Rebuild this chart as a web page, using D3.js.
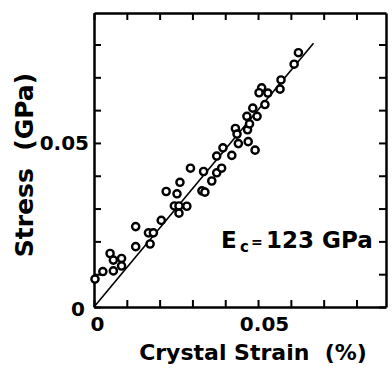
<!DOCTYPE html>
<html>
<head>
<meta charset="utf-8">
<script src="https://cdn.jsdelivr.net/npm/d3@7"></script>
<style>
  body { margin: 0; background: #fff; }
  svg { display: block; }
  text { font-family: "DejaVu Sans", sans-serif; font-weight: bold; fill: #000; white-space: pre; }
</style>
</head>
<body>
<div id="chart"></div>
<script>
// crystal strain (%) vs stress (GPa)
const strain = [0.0003, 0.0027, 0.0049, 0.0059, 0.0059, 0.0084, 0.0084, 0.0127, 0.0127, 0.0166,
                0.0181, 0.0171, 0.0205, 0.0220, 0.0253, 0.0262, 0.0245, 0.0259, 0.0283, 0.0259,
                0.0294, 0.0329, 0.0338, 0.0334, 0.0359, 0.0374, 0.0389, 0.0374, 0.0393, 0.0420,
                0.0431, 0.0436, 0.0440, 0.0470, 0.0491, 0.0468, 0.0474, 0.0466, 0.0497, 0.0484,
                0.0521, 0.0511, 0.0503, 0.0530, 0.0567, 0.0570, 0.0610, 0.0623];
const stress = [0.0085, 0.0108, 0.0163, 0.0143, 0.0110, 0.0148, 0.0125, 0.0245, 0.0184, 0.0226,
                0.0226, 0.0192, 0.0264, 0.0352, 0.0345, 0.0380, 0.0308, 0.0308, 0.0307, 0.0286,
                0.0423, 0.0354, 0.0350, 0.0413, 0.0384, 0.0409, 0.0423, 0.0460, 0.0485, 0.0462,
                0.0544, 0.0527, 0.0498, 0.0504, 0.0478, 0.0540, 0.0558, 0.0581, 0.0581, 0.0606,
                0.0617, 0.0668, 0.0653, 0.0652, 0.0664, 0.0692, 0.0740, 0.0775];

// fitted line E_c = 123 GPa
const fitStrain = [0, 0.0669];
const fitStress = [0, 0.0804];

const xTicks = [0, 0.01, 0.02, 0.03, 0.04, 0.05, 0.06, 0.07, 0.08];
const yTicks = [0, 0.01, 0.02, 0.03, 0.04, 0.05, 0.06, 0.07, 0.08];
const xTickLabels = {0: "0", 0.05: "0.05"};
const yTickLabels = {0: "0", 0.05: "0.05"};

const width = 392;
const height = 368;
const margin = {top: 13, right: 6, bottom: 61, left: 94};

const svg = d3.select("#chart")
              .append("svg")
              .attr("width", width)
              .attr("height", height);

const x = d3.scaleLinear().domain([0, 0.089]).range([margin.left, width - margin.right]);
const y = d3.scaleLinear().domain([0, 0.0896]).range([height - margin.bottom, margin.top]);

const fmtX = d => xTickLabels[d] || "";
const fmtY = d => yTickLabels[d] || "";

const bottom = svg.append("g")
    .attr("transform", `translate(0,${y(0)})`)
    .call(d3.axisBottom(x).tickValues(xTicks).tickSize(-7).tickSizeOuter(0).tickFormat(fmtX));
bottom.selectAll("text")
    .attr("y", 10).attr("dx", 6).attr("dy", "0.71em")
    .style("font-size", "20px");
bottom.selectAll(".tick")
    .filter(d => d === 0)
    .select("text")
    .attr("dx", 3);

svg.append("g")
    .attr("transform", `translate(0,${y(0.0896)})`)
    .call(d3.axisTop(x).tickValues(xTicks).tickSize(-7).tickSizeOuter(0).tickFormat(""));

const left = svg.append("g")
    .attr("transform", `translate(${x(0)},0)`)
    .call(d3.axisLeft(y).tickValues(yTicks).tickSize(-7).tickSizeOuter(0).tickFormat(fmtY));
left.selectAll("text")
    .attr("x", -5)
    .style("font-size", "20px");
left.selectAll(".tick")
    .filter(d => d === 0)
    .select("text")
    .attr("x", -9)
    .attr("dy", "0.42em");

svg.append("g")
    .attr("transform", `translate(${x(0.089)},0)`)
    .call(d3.axisRight(y).tickValues(yTicks).tickSize(-7).tickSizeOuter(0).tickFormat(""));

svg.selectAll(".domain").attr("stroke", "#000").attr("stroke-width", 2.5);
svg.selectAll(".tick line").attr("stroke", "#000").attr("stroke-width", 2);

// fit line
svg.append("line")
    .attr("x1", x(fitStrain[0])).attr("y1", y(fitStress[0]))
    .attr("x2", x(fitStrain[1])).attr("y2", y(fitStress[1]))
    .attr("stroke", "#000")
    .attr("stroke-width", 1.6);

// data points
svg.append("g")
    .selectAll("circle")
    .data(strain.map((s, i) => [s, stress[i]]))
    .join("circle")
    .attr("cx", d => x(d[0]))
    .attr("cy", d => y(d[1]))
    .attr("r", 3.6)
    .attr("fill", "#fff")
    .attr("stroke", "#000")
    .attr("stroke-width", 2.4);

// E_c label
const lab = svg.append("text")
    .attr("y", 248)
    .style("font-size", "23px");
lab.append("tspan").attr("x", 221).text("E");
lab.append("tspan").attr("x", 240).attr("dy", 4).style("font-size", "15px").text("c");
lab.append("tspan").attr("x", 251).attr("dy", -5).style("font-size", "14px").text("=");
lab.append("tspan").attr("x", 266).attr("dy", 1).text("123 GPa");

// axis titles
svg.append("text")
    .attr("x", 253)
    .attr("y", 360)
    .attr("text-anchor", "middle")
    .style("font-size", "22px")
    .text("Crystal Strain  (%)");

svg.append("text")
    .attr("transform", "translate(33,165) rotate(-90)")
    .attr("text-anchor", "middle")
    .style("font-size", "25px")
    .text("Stress  (GPa)");
</script>
</body>
</html>
